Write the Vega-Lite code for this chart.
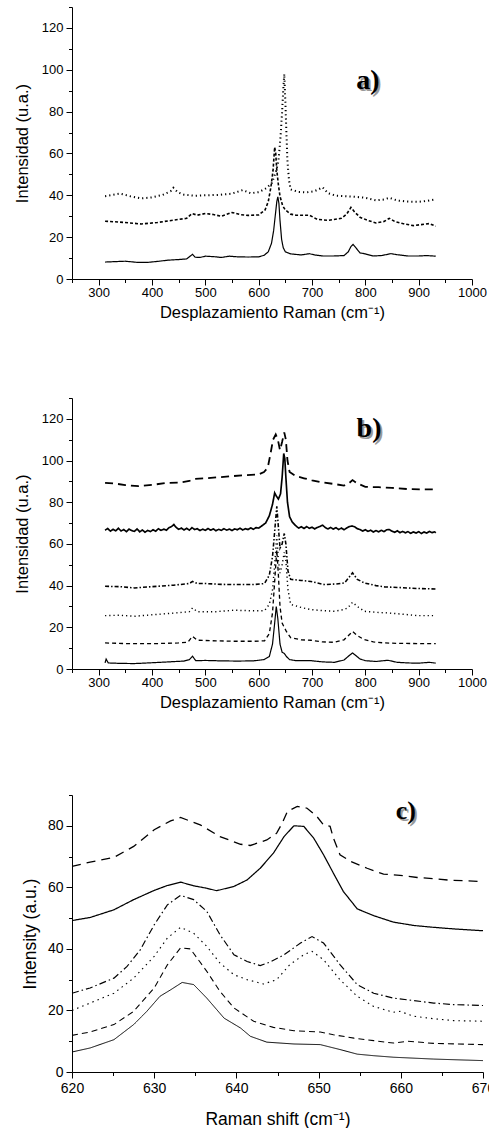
{
"$schema": "https://vega.github.io/schema/vega-lite/v6.json",
"padding": {"left": 14, "top": 6, "right": 0, "bottom": 0},
"spacing": 76,
"resolve": {"scale": {"strokeDash": "independent", "strokeWidth": "independent"}},
"config": {
  "view": {"stroke": null},
  "axis": {"domainColor": "#000", "tickColor": "#000", "labelColor": "#000", "titleColor": "#000", "labelFont": "Liberation Sans", "titleFont": "Liberation Sans", "titleFontWeight": "normal", "grid": false, "labelFlush": false, "labelOverlap": false, "tickSize": 6, "domainWidth": 1, "tickWidth": 1, "format": "d"}
},
"datasets": {
"a": [
{"s":"s1","x":312,"y":8.1},{"s":"s1","x":330,"y":8.3},{"s":"s1","x":350,"y":8.5},{"s":"s1","x":370,"y":8.0},{"s":"s1","x":390,"y":7.9},{"s":"s1","x":410,"y":8.4},{"s":"s1","x":430,"y":9.0},{"s":"s1","x":450,"y":9.3},{"s":"s1","x":465,"y":9.6},{"s":"s1","x":472,"y":11},{"s":"s1","x":476,"y":11.8},{"s":"s1","x":481,"y":10.4},{"s":"s1","x":490,"y":10.3},{"s":"s1","x":500,"y":10.9},{"s":"s1","x":515,"y":10.7},{"s":"s1","x":530,"y":10.3},{"s":"s1","x":545,"y":10.9},{"s":"s1","x":560,"y":10.6},{"s":"s1","x":580,"y":10.5},{"s":"s1","x":600,"y":10.6},{"s":"s1","x":610,"y":11.3},{"s":"s1","x":618,"y":13},{"s":"s1","x":624,"y":17},{"s":"s1","x":628,"y":23},{"s":"s1","x":631,"y":30},{"s":"s1","x":634,"y":37},{"s":"s1","x":636,"y":39.3},{"s":"s1","x":638,"y":36},{"s":"s1","x":640,"y":28},{"s":"s1","x":643,"y":19},{"s":"s1","x":646,"y":15},{"s":"s1","x":650,"y":13},{"s":"s1","x":660,"y":12},{"s":"s1","x":680,"y":11.5},{"s":"s1","x":695,"y":12.1},{"s":"s1","x":705,"y":11.5},{"s":"s1","x":720,"y":11},{"s":"s1","x":740,"y":11},{"s":"s1","x":760,"y":11.2},{"s":"s1","x":768,"y":13},{"s":"s1","x":773,"y":15.5},{"s":"s1","x":777,"y":16.5},{"s":"s1","x":782,"y":15},{"s":"s1","x":790,"y":12.5},{"s":"s1","x":800,"y":12},{"s":"s1","x":815,"y":11},{"s":"s1","x":830,"y":11.2},{"s":"s1","x":848,"y":12.1},{"s":"s1","x":860,"y":11.6},{"s":"s1","x":880,"y":11},{"s":"s1","x":900,"y":11},{"s":"s1","x":915,"y":11.2},{"s":"s1","x":932,"y":10.9},
{"s":"s2","x":312,"y":27.6},{"s":"s2","x":340,"y":27.2},{"s":"s2","x":380,"y":26.3},{"s":"s2","x":410,"y":27},{"s":"s2","x":450,"y":28.5},{"s":"s2","x":465,"y":29},{"s":"s2","x":475,"y":31.3},{"s":"s2","x":485,"y":30.5},{"s":"s2","x":500,"y":31.3},{"s":"s2","x":515,"y":30.8},{"s":"s2","x":530,"y":30},{"s":"s2","x":550,"y":31.8},{"s":"s2","x":565,"y":30.8},{"s":"s2","x":580,"y":30.4},{"s":"s2","x":600,"y":30.6},{"s":"s2","x":612,"y":33},{"s":"s2","x":618,"y":37},{"s":"s2","x":623,"y":44},{"s":"s2","x":627,"y":52},{"s":"s2","x":630,"y":63},{"s":"s2","x":632,"y":60},{"s":"s2","x":634,"y":52},{"s":"s2","x":637,"y":45},{"s":"s2","x":640,"y":39.5},{"s":"s2","x":645,"y":35},{"s":"s2","x":650,"y":33},{"s":"s2","x":660,"y":31},{"s":"s2","x":670,"y":30.5},{"s":"s2","x":695,"y":30.5},{"s":"s2","x":710,"y":28.5},{"s":"s2","x":730,"y":28},{"s":"s2","x":755,"y":29},{"s":"s2","x":765,"y":31},{"s":"s2","x":773,"y":34.2},{"s":"s2","x":780,"y":32},{"s":"s2","x":790,"y":29.5},{"s":"s2","x":805,"y":28},{"s":"s2","x":820,"y":26.8},{"s":"s2","x":835,"y":27.5},{"s":"s2","x":845,"y":29},{"s":"s2","x":855,"y":27.5},{"s":"s2","x":870,"y":26.5},{"s":"s2","x":890,"y":25.5},{"s":"s2","x":905,"y":26},{"s":"s2","x":920,"y":26.5},{"s":"s2","x":932,"y":25.2},
{"s":"s3","x":312,"y":39.6},{"s":"s3","x":340,"y":40.8},{"s":"s3","x":360,"y":39.5},{"s":"s3","x":380,"y":38.5},{"s":"s3","x":400,"y":39},{"s":"s3","x":420,"y":40.2},{"s":"s3","x":435,"y":42},{"s":"s3","x":440,"y":43.6},{"s":"s3","x":448,"y":41.5},{"s":"s3","x":460,"y":40.3},{"s":"s3","x":480,"y":39.8},{"s":"s3","x":500,"y":40},{"s":"s3","x":525,"y":40.2},{"s":"s3","x":550,"y":40.8},{"s":"s3","x":570,"y":42.5},{"s":"s3","x":585,"y":41},{"s":"s3","x":600,"y":41.5},{"s":"s3","x":615,"y":43.5},{"s":"s3","x":625,"y":46},{"s":"s3","x":632,"y":51},{"s":"s3","x":637,"y":56},{"s":"s3","x":641,"y":68},{"s":"s3","x":644,"y":80},{"s":"s3","x":646,"y":90},{"s":"s3","x":648,"y":98},{"s":"s3","x":650,"y":85},{"s":"s3","x":652,"y":70},{"s":"s3","x":654,"y":56},{"s":"s3","x":657,"y":47},{"s":"s3","x":660,"y":42.8},{"s":"s3","x":675,"y":41.6},{"s":"s3","x":690,"y":41.4},{"s":"s3","x":705,"y":42},{"s":"s3","x":720,"y":43.8},{"s":"s3","x":730,"y":41},{"s":"s3","x":745,"y":39.8},{"s":"s3","x":765,"y":39.5},{"s":"s3","x":780,"y":39.3},{"s":"s3","x":800,"y":38.8},{"s":"s3","x":820,"y":37.6},{"s":"s3","x":835,"y":38},{"s":"s3","x":845,"y":38.8},{"s":"s3","x":860,"y":37.5},{"s":"s3","x":880,"y":37},{"s":"s3","x":900,"y":36.9},{"s":"s3","x":915,"y":37.3},{"s":"s3","x":932,"y":38.1}
],
"b": [
{"s":"t1","x":312,"y":2.9},{"s":"t1","x":314,"y":4.8},{"s":"t1","x":318,"y":2.9},{"s":"t1","x":340,"y":2.7},{"s":"t1","x":367,"y":2.6},{"s":"t1","x":400,"y":3.0},{"s":"t1","x":430,"y":3.4},{"s":"t1","x":460,"y":3.8},{"s":"t1","x":470,"y":4.5},{"s":"t1","x":476,"y":6.1},{"s":"t1","x":482,"y":4.0},{"s":"t1","x":500,"y":4.1},{"s":"t1","x":530,"y":3.9},{"s":"t1","x":560,"y":3.8},{"s":"t1","x":590,"y":3.9},{"s":"t1","x":610,"y":4.5},{"s":"t1","x":620,"y":6},{"s":"t1","x":626,"y":12},{"s":"t1","x":630,"y":22},{"s":"t1","x":633,"y":30},{"s":"t1","x":636,"y":24},{"s":"t1","x":640,"y":12},{"s":"t1","x":644,"y":8},{"s":"t1","x":648,"y":7.5},{"s":"t1","x":652,"y":6},{"s":"t1","x":658,"y":4.5},{"s":"t1","x":670,"y":4.0},{"s":"t1","x":698,"y":4.0},{"s":"t1","x":720,"y":3.4},{"s":"t1","x":742,"y":3.2},{"s":"t1","x":760,"y":4.3},{"s":"t1","x":770,"y":6.5},{"s":"t1","x":776,"y":7.7},{"s":"t1","x":782,"y":6.5},{"s":"t1","x":790,"y":4.8},{"s":"t1","x":800,"y":4.0},{"s":"t1","x":820,"y":3.6},{"s":"t1","x":842,"y":4.2},{"s":"t1","x":860,"y":3.2},{"s":"t1","x":880,"y":2.9},{"s":"t1","x":900,"y":2.8},{"s":"t1","x":920,"y":3.2},{"s":"t1","x":932,"y":2.8},
{"s":"t2","x":312,"y":12.5},{"s":"t2","x":350,"y":12.2},{"s":"t2","x":410,"y":12.2},{"s":"t2","x":450,"y":12.5},{"s":"t2","x":467,"y":12.8},{"s":"t2","x":476,"y":15.7},{"s":"t2","x":485,"y":13.8},{"s":"t2","x":520,"y":13.5},{"s":"t2","x":554,"y":13.3},{"s":"t2","x":590,"y":13.3},{"s":"t2","x":611,"y":13.5},{"s":"t2","x":620,"y":17},{"s":"t2","x":626,"y":27},{"s":"t2","x":630,"y":42},{"s":"t2","x":634,"y":57},{"s":"t2","x":637,"y":45},{"s":"t2","x":640,"y":30},{"s":"t2","x":644,"y":22},{"s":"t2","x":648,"y":20},{"s":"t2","x":652,"y":18},{"s":"t2","x":660,"y":15},{"s":"t2","x":680,"y":14},{"s":"t2","x":698,"y":13.8},{"s":"t2","x":720,"y":13},{"s":"t2","x":742,"y":12.8},{"s":"t2","x":760,"y":14},{"s":"t2","x":767,"y":15.7},{"s":"t2","x":776,"y":18},{"s":"t2","x":785,"y":16},{"s":"t2","x":798,"y":14.1},{"s":"t2","x":815,"y":13},{"s":"t2","x":836,"y":12.5},{"s":"t2","x":860,"y":12.3},{"s":"t2","x":900,"y":12.2},{"s":"t2","x":932,"y":12.2},
{"s":"t3","x":312,"y":25.6},{"s":"t3","x":340,"y":25.8},{"s":"t3","x":367,"y":25.3},{"s":"t3","x":400,"y":26},{"s":"t3","x":440,"y":26.8},{"s":"t3","x":470,"y":27.5},{"s":"t3","x":476,"y":29.3},{"s":"t3","x":485,"y":27.5},{"s":"t3","x":520,"y":27.5},{"s":"t3","x":554,"y":28.2},{"s":"t3","x":590,"y":27.9},{"s":"t3","x":611,"y":28},{"s":"t3","x":620,"y":31},{"s":"t3","x":626,"y":38},{"s":"t3","x":630,"y":50},{"s":"t3","x":634,"y":64},{"s":"t3","x":637,"y":52},{"s":"t3","x":640,"y":46},{"s":"t3","x":644,"y":50},{"s":"t3","x":648,"y":56},{"s":"t3","x":651,"y":52},{"s":"t3","x":655,"y":38},{"s":"t3","x":660,"y":31},{"s":"t3","x":680,"y":29.5},{"s":"t3","x":698,"y":28.5},{"s":"t3","x":720,"y":28},{"s":"t3","x":742,"y":27.7},{"s":"t3","x":760,"y":28.5},{"s":"t3","x":767,"y":29.3},{"s":"t3","x":776,"y":32},{"s":"t3","x":785,"y":30},{"s":"t3","x":798,"y":27.7},{"s":"t3","x":820,"y":27.2},{"s":"t3","x":842,"y":26.9},{"s":"t3","x":870,"y":26.3},{"s":"t3","x":898,"y":25.6},{"s":"t3","x":932,"y":25.6},
{"s":"t4","x":312,"y":39.7},{"s":"t4","x":340,"y":39.5},{"s":"t4","x":367,"y":38.9},{"s":"t4","x":400,"y":39.5},{"s":"t4","x":440,"y":40.2},{"s":"t4","x":470,"y":41},{"s":"t4","x":476,"y":42},{"s":"t4","x":485,"y":41},{"s":"t4","x":500,"y":41},{"s":"t4","x":530,"y":40.6},{"s":"t4","x":554,"y":40.5},{"s":"t4","x":590,"y":40.5},{"s":"t4","x":611,"y":41},{"s":"t4","x":620,"y":45},{"s":"t4","x":626,"y":54},{"s":"t4","x":630,"y":66},{"s":"t4","x":634,"y":78},{"s":"t4","x":637,"y":68},{"s":"t4","x":640,"y":58},{"s":"t4","x":644,"y":60},{"s":"t4","x":648,"y":65},{"s":"t4","x":651,"y":60},{"s":"t4","x":655,"y":47},{"s":"t4","x":660,"y":43},{"s":"t4","x":680,"y":42.5},{"s":"t4","x":698,"y":42},{"s":"t4","x":723,"y":40.5},{"s":"t4","x":745,"y":40.8},{"s":"t4","x":761,"y":41.3},{"s":"t4","x":768,"y":43.5},{"s":"t4","x":776,"y":46.1},{"s":"t4","x":785,"y":43},{"s":"t4","x":798,"y":41.3},{"s":"t4","x":820,"y":40},{"s":"t4","x":836,"y":39.4},{"s":"t4","x":870,"y":39},{"s":"t4","x":900,"y":38.6},{"s":"t4","x":932,"y":38.4},
{"s":"t5","x":312,"y":66.6},{"s":"t5","x":317,"y":67.4},{"s":"t5","x":322,"y":66.1},{"s":"t5","x":327,"y":67.0},{"s":"t5","x":332,"y":66.3},{"s":"t5","x":337,"y":67.5},{"s":"t5","x":342,"y":66.2},{"s":"t5","x":347,"y":66.9},{"s":"t5","x":352,"y":65.9},{"s":"t5","x":357,"y":67.1},{"s":"t5","x":362,"y":66.4},{"s":"t5","x":367,"y":66.0},{"s":"t5","x":372,"y":67.2},{"s":"t5","x":377,"y":65.8},{"s":"t5","x":382,"y":66.7},{"s":"t5","x":387,"y":65.6},{"s":"t5","x":392,"y":66.5},{"s":"t5","x":397,"y":65.9},{"s":"t5","x":402,"y":66.8},{"s":"t5","x":407,"y":66.1},{"s":"t5","x":412,"y":67.3},{"s":"t5","x":417,"y":66.5},{"s":"t5","x":422,"y":67.1},{"s":"t5","x":427,"y":66.6},{"s":"t5","x":432,"y":67.8},{"s":"t5","x":437,"y":68.4},{"s":"t5","x":441,"y":69.3},{"s":"t5","x":445,"y":68.0},{"s":"t5","x":450,"y":67.0},{"s":"t5","x":455,"y":67.6},{"s":"t5","x":460,"y":66.7},{"s":"t5","x":465,"y":67.5},{"s":"t5","x":470,"y":66.6},{"s":"t5","x":475,"y":67.8},{"s":"t5","x":480,"y":66.9},{"s":"t5","x":485,"y":67.3},{"s":"t5","x":490,"y":66.4},{"s":"t5","x":495,"y":67.1},{"s":"t5","x":500,"y":66.5},{"s":"t5","x":505,"y":67.4},{"s":"t5","x":510,"y":66.6},{"s":"t5","x":515,"y":67.2},{"s":"t5","x":520,"y":66.3},{"s":"t5","x":525,"y":67.0},{"s":"t5","x":530,"y":66.5},{"s":"t5","x":535,"y":67.3},{"s":"t5","x":540,"y":66.6},{"s":"t5","x":545,"y":67.1},{"s":"t5","x":550,"y":66.4},{"s":"t5","x":555,"y":67.2},{"s":"t5","x":560,"y":66.8},{"s":"t5","x":565,"y":67.5},{"s":"t5","x":570,"y":66.7},{"s":"t5","x":575,"y":67.3},{"s":"t5","x":580,"y":66.9},{"s":"t5","x":585,"y":67.7},{"s":"t5","x":590,"y":67.0},{"s":"t5","x":595,"y":67.8},{"s":"t5","x":600,"y":67.6},{"s":"t5","x":605,"y":68.5},{"s":"t5","x":613,"y":70},{"s":"t5","x":620,"y":73.5},{"s":"t5","x":626,"y":79},{"s":"t5","x":630,"y":84.5},{"s":"t5","x":633,"y":83},{"s":"t5","x":637,"y":81.5},{"s":"t5","x":641,"y":84},{"s":"t5","x":644,"y":92},{"s":"t5","x":647,"y":103.4},{"s":"t5","x":649,"y":101},{"s":"t5","x":651,"y":92},{"s":"t5","x":654,"y":80},{"s":"t5","x":658,"y":73},{"s":"t5","x":663,"y":70.5},{"s":"t5","x":670,"y":68.6},{"s":"t5","x":675,"y":67.6},{"s":"t5","x":680,"y":68.2},{"s":"t5","x":685,"y":67.4},{"s":"t5","x":690,"y":68.3},{"s":"t5","x":695,"y":67.5},{"s":"t5","x":700,"y":68.0},{"s":"t5","x":705,"y":67.2},{"s":"t5","x":710,"y":67.9},{"s":"t5","x":715,"y":68.4},{"s":"t5","x":720,"y":69.0},{"s":"t5","x":725,"y":67.8},{"s":"t5","x":730,"y":67.2},{"s":"t5","x":735,"y":67.9},{"s":"t5","x":740,"y":67.1},{"s":"t5","x":745,"y":67.8},{"s":"t5","x":750,"y":66.9},{"s":"t5","x":755,"y":67.6},{"s":"t5","x":760,"y":66.8},{"s":"t5","x":765,"y":67.6},{"s":"t5","x":770,"y":68.3},{"s":"t5","x":775,"y":68.6},{"s":"t5","x":780,"y":68.2},{"s":"t5","x":785,"y":67.3},{"s":"t5","x":790,"y":66.9},{"s":"t5","x":795,"y":66.2},{"s":"t5","x":800,"y":66.8},{"s":"t5","x":805,"y":66.0},{"s":"t5","x":810,"y":66.6},{"s":"t5","x":815,"y":65.7},{"s":"t5","x":820,"y":66.4},{"s":"t5","x":825,"y":65.8},{"s":"t5","x":830,"y":66.5},{"s":"t5","x":835,"y":65.9},{"s":"t5","x":840,"y":66.8},{"s":"t5","x":845,"y":66.9},{"s":"t5","x":850,"y":66.1},{"s":"t5","x":855,"y":65.6},{"s":"t5","x":860,"y":66.3},{"s":"t5","x":865,"y":65.4},{"s":"t5","x":870,"y":66.0},{"s":"t5","x":875,"y":65.3},{"s":"t5","x":880,"y":65.9},{"s":"t5","x":885,"y":65.1},{"s":"t5","x":890,"y":65.8},{"s":"t5","x":895,"y":65.2},{"s":"t5","x":900,"y":65.9},{"s":"t5","x":905,"y":65.0},{"s":"t5","x":910,"y":65.7},{"s":"t5","x":915,"y":65.2},{"s":"t5","x":920,"y":66.0},{"s":"t5","x":925,"y":65.4},{"s":"t5","x":930,"y":65.8},{"s":"t5","x":932,"y":65.3},
{"s":"t6","x":312,"y":89.3},{"s":"t6","x":330,"y":89},{"s":"t6","x":350,"y":88.2},{"s":"t6","x":375,"y":87.7},{"s":"t6","x":400,"y":88.3},{"s":"t6","x":425,"y":89.2},{"s":"t6","x":450,"y":89.4},{"s":"t6","x":470,"y":90.2},{"s":"t6","x":480,"y":91.2},{"s":"t6","x":500,"y":91.5},{"s":"t6","x":525,"y":92},{"s":"t6","x":550,"y":92.5},{"s":"t6","x":575,"y":93},{"s":"t6","x":600,"y":93.3},{"s":"t6","x":610,"y":94.5},{"s":"t6","x":617,"y":96.5},{"s":"t6","x":622,"y":103},{"s":"t6","x":627,"y":110},{"s":"t6","x":632,"y":112.5},{"s":"t6","x":636,"y":110},{"s":"t6","x":640,"y":105},{"s":"t6","x":644,"y":109},{"s":"t6","x":648,"y":113.5},{"s":"t6","x":651,"y":110},{"s":"t6","x":654,"y":100},{"s":"t6","x":658,"y":94.5},{"s":"t6","x":670,"y":92.5},{"s":"t6","x":685,"y":91.5},{"s":"t6","x":700,"y":90.5},{"s":"t6","x":720,"y":89.5},{"s":"t6","x":740,"y":88.8},{"s":"t6","x":760,"y":88},{"s":"t6","x":770,"y":89.3},{"s":"t6","x":776,"y":90.6},{"s":"t6","x":785,"y":89},{"s":"t6","x":800,"y":87.4},{"s":"t6","x":825,"y":87.2},{"s":"t6","x":850,"y":86.9},{"s":"t6","x":880,"y":86.3},{"s":"t6","x":905,"y":86.2},{"s":"t6","x":932,"y":86.1}
],
"c": [
{"s":"c1","x":620,"y":6.5},{"s":"c1","x":622.2,"y":7.8},{"s":"c1","x":625.1,"y":10.5},{"s":"c1","x":627.5,"y":15.4},{"s":"c1","x":629.1,"y":19.7},{"s":"c1","x":630.7,"y":24.6},{"s":"c1","x":632,"y":26.7},{"s":"c1","x":633.4,"y":29.1},{"s":"c1","x":634.8,"y":28.4},{"s":"c1","x":636.4,"y":24},{"s":"c1","x":638.5,"y":17.5},{"s":"c1","x":640.5,"y":14.3},{"s":"c1","x":641.7,"y":11.6},{"s":"c1","x":643.7,"y":9.7},{"s":"c1","x":647,"y":9.1},{"s":"c1","x":650.2,"y":8.9},{"s":"c1","x":652.6,"y":7.3},{"s":"c1","x":654.7,"y":5.8},{"s":"c1","x":656.7,"y":5.3},{"s":"c1","x":659.1,"y":4.8},{"s":"c1","x":664,"y":4.2},{"s":"c1","x":670,"y":3.7},
{"s":"c2","x":620,"y":11.9},{"s":"c2","x":622.2,"y":13},{"s":"c2","x":625.1,"y":15.4},{"s":"c2","x":627.5,"y":19.7},{"s":"c2","x":630,"y":27.3},{"s":"c2","x":631.6,"y":34.8},{"s":"c2","x":633.2,"y":40.3},{"s":"c2","x":634.4,"y":40},{"s":"c2","x":636.4,"y":32.7},{"s":"c2","x":638,"y":26.2},{"s":"c2","x":639.7,"y":20.8},{"s":"c2","x":642.1,"y":16.5},{"s":"c2","x":644.5,"y":14.5},{"s":"c2","x":647,"y":13.4},{"s":"c2","x":650.2,"y":13},{"s":"c2","x":651.8,"y":12.1},{"s":"c2","x":654.3,"y":11},{"s":"c2","x":656.7,"y":10.2},{"s":"c2","x":659.1,"y":9.4},{"s":"c2","x":660.8,"y":10},{"s":"c2","x":664,"y":9.3},{"s":"c2","x":670,"y":8.9},
{"s":"c3","x":620,"y":20},{"s":"c3","x":622.2,"y":22.4},{"s":"c3","x":625.1,"y":25.6},{"s":"c3","x":627.5,"y":30.5},{"s":"c3","x":630,"y":37.6},{"s":"c3","x":631.6,"y":43.5},{"s":"c3","x":633.2,"y":47},{"s":"c3","x":634.8,"y":45.1},{"s":"c3","x":636.4,"y":40.8},{"s":"c3","x":638,"y":35.4},{"s":"c3","x":639.7,"y":31.6},{"s":"c3","x":641.3,"y":30},{"s":"c3","x":643.3,"y":28.6},{"s":"c3","x":644.9,"y":30},{"s":"c3","x":646.5,"y":34.9},{"s":"c3","x":648.2,"y":38.1},{"s":"c3","x":649.2,"y":39.2},{"s":"c3","x":650.6,"y":36.5},{"s":"c3","x":652.6,"y":30},{"s":"c3","x":654.7,"y":24.6},{"s":"c3","x":656.7,"y":21.3},{"s":"c3","x":659.1,"y":19.4},{"s":"c3","x":659.9,"y":19.7},{"s":"c3","x":661.6,"y":18.1},{"s":"c3","x":664,"y":17.3},{"s":"c3","x":666.4,"y":16.7},{"s":"c3","x":670,"y":16.5},
{"s":"c4","x":620,"y":25.6},{"s":"c4","x":622.2,"y":27.3},{"s":"c4","x":625.1,"y":30.5},{"s":"c4","x":626.7,"y":34.3},{"s":"c4","x":628.3,"y":39.7},{"s":"c4","x":630,"y":47.8},{"s":"c4","x":631.6,"y":54.3},{"s":"c4","x":633.2,"y":57.4},{"s":"c4","x":634.8,"y":56},{"s":"c4","x":636.4,"y":52.2},{"s":"c4","x":638,"y":44.6},{"s":"c4","x":639.7,"y":38.1},{"s":"c4","x":641.3,"y":35.9},{"s":"c4","x":642.9,"y":34.6},{"s":"c4","x":644.1,"y":35.7},{"s":"c4","x":645.8,"y":38.1},{"s":"c4","x":647.8,"y":41.9},{"s":"c4","x":649.2,"y":44},{"s":"c4","x":650.6,"y":41.9},{"s":"c4","x":652.6,"y":34.9},{"s":"c4","x":654.7,"y":28.4},{"s":"c4","x":656.7,"y":25.6},{"s":"c4","x":659.1,"y":24},{"s":"c4","x":661.6,"y":23.2},{"s":"c4","x":664,"y":22.4},{"s":"c4","x":666.4,"y":21.9},{"s":"c4","x":670,"y":21.6},
{"s":"c5","x":620,"y":49.2},{"s":"c5","x":622.2,"y":50.2},{"s":"c5","x":625.1,"y":52.7},{"s":"c5","x":627.5,"y":56},{"s":"c5","x":630,"y":59},{"s":"c5","x":631.6,"y":60.6},{"s":"c5","x":633.2,"y":61.7},{"s":"c5","x":634.8,"y":60.5},{"s":"c5","x":636.4,"y":59.7},{"s":"c5","x":637.6,"y":58.9},{"s":"c5","x":639.7,"y":60.3},{"s":"c5","x":641.3,"y":62.4},{"s":"c5","x":642.9,"y":66.2},{"s":"c5","x":644.5,"y":71.1},{"s":"c5","x":645.8,"y":76.5},{"s":"c5","x":647,"y":80},{"s":"c5","x":648.2,"y":79.8},{"s":"c5","x":649.4,"y":76},{"s":"c5","x":650.6,"y":70.6},{"s":"c5","x":651.8,"y":64.6},{"s":"c5","x":653,"y":58.7},{"s":"c5","x":654.7,"y":53},{"s":"c5","x":656.7,"y":50.8},{"s":"c5","x":659.1,"y":48.7},{"s":"c5","x":661.6,"y":47.6},{"s":"c5","x":664,"y":47},{"s":"c5","x":666.4,"y":46.5},{"s":"c5","x":670,"y":45.9},
{"s":"c6","x":620,"y":66.8},{"s":"c6","x":622.2,"y":68.2},{"s":"c6","x":625.1,"y":69.7},{"s":"c6","x":627.5,"y":73.3},{"s":"c6","x":630,"y":78.7},{"s":"c6","x":632,"y":81.6},{"s":"c6","x":633.2,"y":82.7},{"s":"c6","x":635.6,"y":80.3},{"s":"c6","x":638,"y":76.5},{"s":"c6","x":640.5,"y":74},{"s":"c6","x":641.7,"y":73.6},{"s":"c6","x":643.7,"y":75.4},{"s":"c6","x":644.9,"y":77.6},{"s":"c6","x":645.6,"y":81},{"s":"c6","x":646.2,"y":84.6},{"s":"c6","x":647.4,"y":86.3},{"s":"c6","x":648.6,"y":85.7},{"s":"c6","x":649.8,"y":83},{"s":"c6","x":650.6,"y":80.3},{"s":"c6","x":651.4,"y":79.8},{"s":"c6","x":651.8,"y":76},{"s":"c6","x":652.6,"y":70.6},{"s":"c6","x":653.9,"y":68.4},{"s":"c6","x":655.9,"y":66.2},{"s":"c6","x":657.9,"y":64.3},{"s":"c6","x":659.9,"y":63.9},{"s":"c6","x":662,"y":63.2},{"s":"c6","x":664,"y":62.8},{"s":"c6","x":666,"y":62.3},{"s":"c6","x":668,"y":62.1},{"s":"c6","x":670,"y":61.9}
]
},
"vconcat": [
   {
    "width": 400, "height": 272,
    "layer": [
     {"data": {"name": "a"}, "mark": {"type": "line", "color": "#000"},
      "encoding": {
       "x": {"field": "x", "type": "quantitative", "scale": {"domain": [250, 1000], "nice": false}, "axis": {"orient": "bottom", "values": [300,400,500,600,700,800,900,1000], "title": "Desplazamiento Raman (cm⁻¹)", "labelFontSize": 13, "titleFontSize": 16.5, "labelPadding": 1, "titlePadding": 5}},
       "y": {"field": "y", "type": "quantitative", "scale": {"domain": [0, 130], "nice": false}, "axis": {"orient": "left", "values": [0,20,40,60,80,100,120], "title": "Intensidad (u.a.)", "labelFontSize": 13, "titleFontSize": 16.5, "labelPadding": 3, "titlePadding": 11}},
       "strokeDash": {"field": "s", "type": "nominal", "legend": null, "scale": {"domain": ["s1","s2","s3"], "range": [[1,0],[3,2],[1.2,3]]}},
       "strokeWidth": {"field": "s", "type": "ordinal", "legend": null, "scale": {"domain": ["s1","s2","s3"], "range": [1.2,2,1.5]}}
      }},
     {"data": {"values": [{"label": "a)"}]}, "mark": {"type": "text", "font": "Liberation Serif", "fontWeight": "bold", "fontSize": 28, "color": "#999", "dx": 2, "dy": 2, "baseline": "alphabetic", "align": "center"},
      "encoding": {"text": {"field": "label"}, "x": {"datum": 805, "type": "quantitative", "axis": null}, "y": {"datum": 90.8, "type": "quantitative", "axis": null}}},
     {"data": {"values": [{"label": "a)"}]}, "mark": {"type": "text", "font": "Liberation Serif", "fontWeight": "bold", "fontSize": 28, "color": "#000", "baseline": "alphabetic", "align": "center"},
      "encoding": {"text": {"field": "label"},
       "x": {"datum": 805, "type": "quantitative", "axis": {"orient": "bottom", "values": [250,350,450,550,650,750,850,950], "labels": false, "domain": false, "title": null, "tickSize": 3.5}},
       "y": {"datum": 90.8, "type": "quantitative", "axis": {"orient": "left", "values": [10,30,50,70,90,110,130], "labels": false, "domain": false, "title": null, "tickSize": 3.5}}}}
    ],
    "resolve": {"axis": {"x": "independent", "y": "independent"}}
   },
   {
    "width": 400, "height": 271,
    "layer": [
     {"data": {"name": "b"}, "mark": {"type": "line", "color": "#000"},
      "encoding": {
       "x": {"field": "x", "type": "quantitative", "scale": {"domain": [250, 1000], "nice": false}, "axis": {"orient": "bottom", "values": [300,400,500,600,700,800,900,1000], "title": "Desplazamiento Raman (cm⁻¹)", "labelFontSize": 13, "titleFontSize": 16.5, "labelPadding": 1, "titlePadding": 5}},
       "y": {"field": "y", "type": "quantitative", "scale": {"domain": [0, 130], "nice": false}, "axis": {"orient": "left", "values": [0,20,40,60,80,100,120], "title": "Intensidad (u.a.)", "labelFontSize": 13, "titleFontSize": 16.5, "labelPadding": 3, "titlePadding": 11}},
       "strokeDash": {"field": "s", "type": "nominal", "legend": null, "scale": {"domain": ["t1","t2","t3","t4","t5","t6"], "range": [[1,0],[4,3],[1.2,3],[4,2,1.5,2],[1,0],[8,5]]}},
       "strokeWidth": {"field": "s", "type": "ordinal", "legend": null, "scale": {"domain": ["t1","t2","t3","t4","t5","t6"], "range": [1.2,1.8,1.3,1.6,2.4,3.8]}}
      }},
     {"data": {"values": [{"label": "b)"}]}, "mark": {"type": "text", "font": "Liberation Serif", "fontWeight": "bold", "fontSize": 28, "color": "#999", "dx": 2, "dy": 2, "baseline": "alphabetic", "align": "center"},
      "encoding": {"text": {"field": "label"}, "x": {"datum": 807, "type": "quantitative", "axis": null}, "y": {"datum": 111.3, "type": "quantitative", "axis": null}}},
     {"data": {"values": [{"label": "b)"}]}, "mark": {"type": "text", "font": "Liberation Serif", "fontWeight": "bold", "fontSize": 28, "color": "#000", "baseline": "alphabetic", "align": "center"},
      "encoding": {"text": {"field": "label"},
       "x": {"datum": 807, "type": "quantitative", "axis": {"orient": "bottom", "values": [250,350,450,550,650,750,850,950], "labels": false, "domain": false, "title": null, "tickSize": 3.5}},
       "y": {"datum": 111.3, "type": "quantitative", "axis": {"orient": "left", "values": [10,30,50,70,90,110,130], "labels": false, "domain": false, "title": null, "tickSize": 3.5}}}}
    ],
    "resolve": {"axis": {"x": "independent", "y": "independent"}}
   },
 {
  "width": 411, "height": 277,
  "layer": [
   {"data": {"name": "c"}, "mark": {"type": "line", "color": "#000"},
    "encoding": {
     "x": {"field": "x", "type": "quantitative", "scale": {"domain": [620, 670], "nice": false}, "axis": {"orient": "bottom", "values": [620,630,640,650,660,670], "title": "Raman shift (cm⁻¹)", "labelFontSize": 14, "titleFontSize": 17.5, "labelPadding": 3, "titlePadding": 15}},
     "y": {"field": "y", "type": "quantitative", "scale": {"domain": [0, 90], "nice": false}, "axis": {"orient": "left", "values": [0,20,40,60,80], "title": "Intensity (a.u.)", "labelFontSize": 14, "titleFontSize": 17.5, "labelPadding": 3, "titlePadding": 8}},
     "strokeDash": {"field": "s", "type": "nominal", "legend": null, "scale": {"domain": ["c1","c2","c3","c4","c5","c6"], "range": [[1,0],[6,4],[1.5,4],[7,3,1.5,3],[1,0],[9,6]]}},
     "strokeWidth": {"field": "s", "type": "ordinal", "legend": null, "scale": {"domain": ["c1","c2","c3","c4","c5","c6"], "range": [1,1.3,1.3,1.1,2.2,2.6]}}
    }},
   {"data": {"values": [{"label": "c)"}]}, "mark": {"type": "text", "font": "Liberation Serif", "fontWeight": "bold", "fontSize": 26, "color": "#999", "dx": 2, "dy": 2, "baseline": "alphabetic", "align": "center"},
    "encoding": {"text": {"field": "label"}, "x": {"datum": 660.6, "type": "quantitative", "axis": {"orient": "top", "domain": false, "ticks": false, "labels": false, "title": " ", "titleFontSize": 8, "titlePadding": 0}}, "y": {"datum": 82.3, "type": "quantitative", "axis": null}}},
   {"data": {"values": [{"label": "c)"}]}, "mark": {"type": "text", "font": "Liberation Serif", "fontWeight": "bold", "fontSize": 26, "color": "#000", "baseline": "alphabetic", "align": "center"},
    "encoding": {"text": {"field": "label"},
     "x": {"datum": 660.6, "type": "quantitative", "axis": {"orient": "bottom", "values": [625,635,645,655,665], "labels": false, "domain": false, "title": null, "tickSize": 3.5}},
     "y": {"datum": 82.3, "type": "quantitative", "axis": {"orient": "left", "values": [10,30,50,70,90], "labels": false, "domain": false, "title": null, "tickSize": 3.5}}}}
  ],
  "resolve": {"axis": {"x": "independent", "y": "independent"}}
 }
]
}
